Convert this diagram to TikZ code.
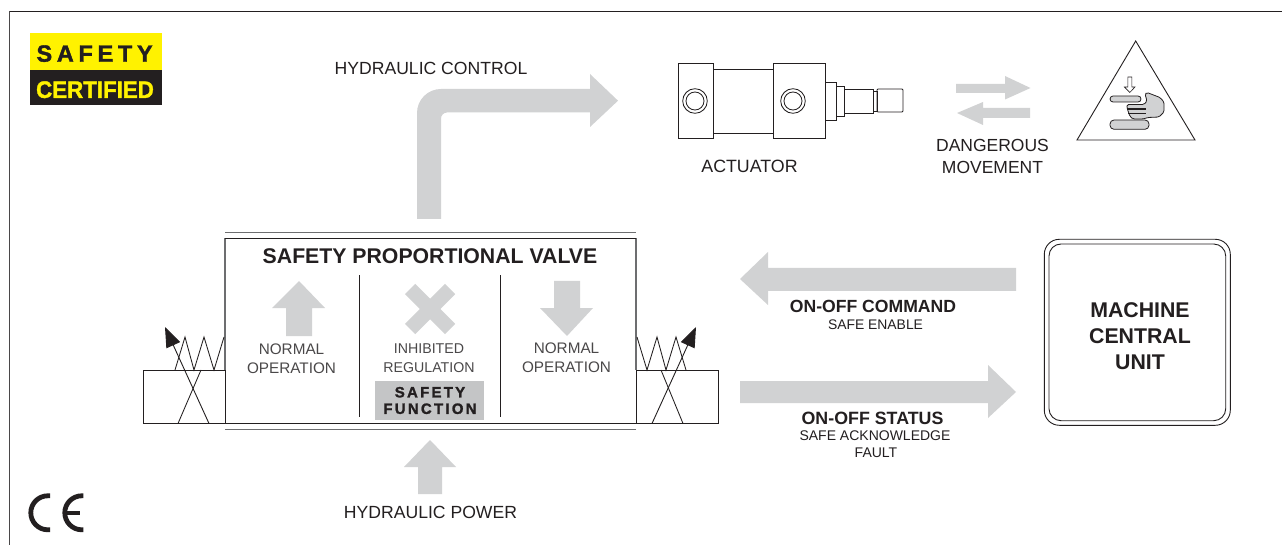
\documentclass[tikz,border=0pt]{standalone}
\usepackage{fontspec}
\usepackage{graphicx}
\setmainfont{Liberation Sans}
\usetikzlibrary{arrows.meta}
\definecolor{ink}{HTML}{231F20}
\definecolor{softink}{HTML}{4A4849}
\definecolor{rulegrey}{HTML}{6D6E70}
\definecolor{flow}{HTML}{D1D2D3}
\definecolor{flowdark}{HTML}{C4C5C6}
\definecolor{logoyellow}{HTML}{FFF200}
\newcommand{\fsz}[2]{\fontsize{#1}{#2}\selectfont}
\tikzset{
  x=1pt,y=-1pt,
  line/.style={draw=ink,line width=0.9pt},
  thin line/.style={draw=ink,line width=0.85pt},
  flowarrow/.style={fill=flow,draw=none},
  lbl/.style={inner sep=0pt,text=ink,align=center},
  soft/.style={inner sep=0pt,text=softink,align=center},
  needle/.style={draw=ink,line width=0.9pt,-{Triangle[length=20pt,width=15pt]}},
  ce/.style={draw=ink,line width=4.8pt},
}
\begin{document}
\begin{tikzpicture}
\useasboundingbox (0,0) rectangle (1282,545);
\fill[white] (0,0) rectangle (1282,545);
% frame
\draw[draw=ink,line width=0.9pt] (1282,11) -- (9.5,11);
\draw[draw=softink,line width=0.9pt] (9.5,11) -- (9.5,545);
% logo
\fill[logoyellow] (30,33) rectangle (162,70);
\fill[ink] (30,70) rectangle (162,105);
\node[inner sep=0pt,text=ink] (logoa) at (94.6,53.6) {\fsz{23.5}{24}\addfontfeature{LetterSpace=20,FakeBold=1.5}\bfseries SAFETY};
\node[inner sep=0pt,text=logoyellow] (logob) at (95,89.7) {\scalebox{1}[1.07]{\fsz{22.3}{24}\addfontfeature{FakeBold=1.5}\bfseries CERTIFIED}};
% CE
\draw[ce] (50,495.8) -- (47.8,495.8) arc[start angle=270,end angle=90,radius=17] -- (50,529.8);
\draw[ce] (83.3,495.8) -- (81.8,495.8) arc[start angle=270,end angle=90,radius=17] -- (83.3,529.8);
\draw[draw=ink,line width=4.2pt] (65,512.7) -- (80,512.7);
% hydraulic control arrow
\fill[flowarrow] (417,219) -- (417,113) arc[start angle=180,end angle=270,radius=24] -- (590,89) -- (590,74) -- (618,100.7) -- (590,127) -- (590,112.5) -- (447,112.5) arc[start angle=270,end angle=180,radius=6] -- (441,219) -- cycle;
\node[lbl] (hc) at (431,68) {\fsz{17.6}{20}HYDRAULIC CONTROL};
% actuator
\draw[thin line] (713.5,69.5) rectangle (773,133);
\draw[line] (678,63) rectangle (713.5,138);
\draw[line] (773,63) rectangle (825.5,138);
\draw[thin line] (695,101) circle[radius=12.3] (695,101) circle[radius=9];
\draw[thin line] (793,101) circle[radius=12.3] (793,101) circle[radius=9];
\draw[thin line] (825.5,82) rectangle (836,120);
\draw[thin line] (836,86) rectangle (844,116);
\draw[thin line] (844,89) rectangle (873,113);
\draw[thin line] (873,91) rectangle (877,111);
\draw[thin line,rounded corners=1pt] (877,89) rectangle (903,112);
\node[lbl] (act) at (749.5,166) {\fsz{17.8}{20}ACTUATOR};
% dangerous movement
\fill[flowarrow] (956,84) -- (1005,84) -- (1005,76) -- (1030.5,88) -- (1005,99.5) -- (1005,93) -- (956,93) -- cycle;
\fill[flowarrow] (1030,108) -- (983,108) -- (983,102) -- (957,113) -- (983,125) -- (983,118) -- (1030,118) -- cycle;
\node[lbl,font=\fsz{17.5}{22}] (dm) at (992.5,156) {DANGEROUS\\MOVEMENT};
% warning triangle
\draw[draw=ink,line width=0.9pt,line join=miter] (1135.7,41) -- (1195,140) -- (1077,140) -- cycle;
\draw[draw=ink,line width=0.6pt] (1127.8,77) -- (1131.8,77) -- (1131.8,87) -- (1135,87) -- (1129.8,92.5) -- (1124.4,87) -- (1127.8,87) -- cycle;
\draw[draw=ink,line width=0.8pt,fill=flow,rounded corners=3pt] (1110,96) rectangle (1141,102);
\draw[draw=ink,line width=0.8pt,fill=flow,rounded corners=4pt] (1110,120) rectangle (1149,129.3);
\draw[draw=ink,line width=0.8pt,fill=flow,line join=round,rounded corners=1.5pt] (1127,104.5) -- (1144,104.5) -- (1147,101) -- (1145,94) -- (1147,92.5) -- (1160,97.5) -- (1164,102) -- (1164,112) -- (1159,117) -- (1148,117.5) -- (1143,119) -- (1133,119) -- (1130,116.5) -- (1127,108) -- cycle;
\draw[draw=ink,line width=1.2pt] (1127,109) -- (1146,109);
\draw[draw=ink,line width=1.2pt] (1128,113.2) -- (1146,113.2);
% valve
\draw[draw=rulegrey,line width=1.2pt] (225,232.7) -- (636,232.7);
\draw[draw=rulegrey,line width=1.2pt] (225,429.5) -- (636,429.5);
\draw[line] (143,370) rectangle (225,423.5);
\draw[line] (636,370) rectangle (718,423.5);
\draw[draw=rulegrey,line width=1.2pt] (225,238.5) -- (225,370);
\draw[draw=rulegrey,line width=1.2pt] (636,238.5) -- (636,370);
\draw[line] (225,238.5) -- (636,238.5);
\draw[line] (225,423.5) -- (636,423.5);
\draw[thin line] (359.5,275.5) -- (359.5,417);
\draw[thin line] (500.5,275.5) -- (500.5,417);
\node[lbl] (title) at (430,256.5) {\fsz{21.25}{24}\bfseries SAFETY PROPORTIONAL VALVE};
% left solenoid
\draw[thin line,line join=miter] (175,370) -- (185,337) -- (194,370) -- (204,337) -- (214,370) -- (224,337);
\coordinate (ltip) at (165,327);
\coordinate (lfoot) at (209,423.5);
\draw[needle] (lfoot) -- (ltip);
\draw[thin line] (178,423.5) -- (201,370);
% right solenoid
\draw[thin line,line join=miter] (686,370) -- (676,337) -- (666,370) -- (657,337) -- (647,370) -- (637,337);
\coordinate (rtip) at (696,327);
\coordinate (rfoot) at (652,423.5);
\draw[needle] (rfoot) -- (rtip);
\draw[thin line] (683,423.5) -- (661,370);
% normal up
\fill[flowarrow] (286,336) -- (286,308) -- (272,308) -- (299,281) -- (325,308) -- (312,308) -- (312,336) -- cycle;
\node[soft,font=\fsz{15.3}{19}] (nol) at (291.5,359) {NORMAL\\OPERATION};
% inhibited
\draw[draw=flow,line width=14.5pt] (410,289) -- (450,329);
\draw[draw=flow,line width=14.5pt] (450,289) -- (410,329);
\node[soft,font=\fsz{14.2}{19}] (inh) at (429,358.5) {INHIBITED\\REGULATION};
\fill[flowdark] (375,381) rectangle (484,419.5);
\node[lbl,font=\fsz{15}{16.5}\addfontfeature{LetterSpace=15,FakeBold=1.5}\bfseries] (sf) at (430,400.5) {SAFETY\\FUNCTION};
% normal down
\fill[flowarrow] (554,281) -- (580,281) -- (580,308) -- (593,308) -- (567,336) -- (540,308) -- (554,308) -- cycle;
\node[soft,font=\fsz{15.3}{19}] (nor) at (566.5,358) {NORMAL\\OPERATION};
% hydraulic power
\fill[flowarrow] (418,494) -- (418,467) -- (404,467) -- (430,440) -- (456,467) -- (442,467) -- (442,494) -- cycle;
\node[lbl] (hp) at (430.5,512) {\fsz{17.6}{20}HYDRAULIC POWER};
% command arrows
\fill[flowarrow] (1016,268) -- (768,268) -- (768,252) -- (740,279) -- (768,305) -- (768,291) -- (1016,291) -- cycle;
\node[lbl] (cmd) at (873,306) {\fsz{17.6}{20}\bfseries ON-OFF COMMAND};
\node[lbl] (en) at (875.5,324.5) {\fsz{13.9}{16}SAFE ENABLE};
\fill[flowarrow] (740,381) -- (988,381) -- (988,365) -- (1016,392) -- (988,418) -- (988,403) -- (740,403) -- cycle;
\node[lbl] (st) at (872.5,418) {\fsz{17.8}{20}\bfseries ON-OFF STATUS};
\node[lbl] (ack) at (875,436) {\fsz{14}{16}SAFE ACKNOWLEDGE};
\node[lbl] (fault) at (876,453) {\fsz{14}{16}FAULT};
% machine unit
\draw[line,rounded corners=15pt] (1044.3,239.3) rectangle (1230.3,425.3);
\draw[line,rounded corners=12pt] (1049,244) rectangle (1225.7,420.7);
\node[lbl,font=\fsz{21.3}{26}\bfseries] (mcu) at (1140,336) {MACHINE\\CENTRAL\\UNIT};
\end{tikzpicture}
\end{document}
